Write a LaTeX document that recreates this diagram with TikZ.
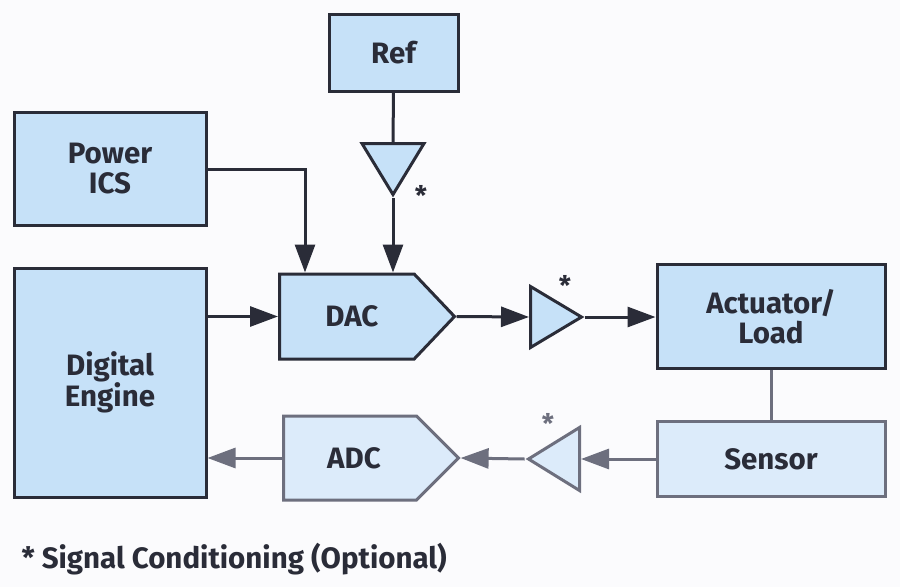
\documentclass[tikz,border=0pt]{standalone}
\usepackage{fontspec}
\setmainfont{Fira Sans}
\usetikzlibrary{shapes.geometric,shapes.symbols,arrows.meta}
\definecolor{inkdark}{HTML}{2A2C38}
\definecolor{inkgray}{HTML}{6D6F7E}
\definecolor{filltop}{HTML}{C6E1F8}
\definecolor{fillbot}{HTML}{DCEBFA}
\definecolor{paper}{HTML}{FBFBFD}

\begin{document}
\begin{tikzpicture}[x=1pt, y=-1pt,
  font=\fontsize{29.5}{30}\selectfont\bfseries,
  block/.style={draw=inkdark, fill=filltop, line width=3pt, text=inkdark, align=center, inner sep=0pt},
  lowblock/.style={block, draw=inkgray, fill=fillbot},
  amp/.style={isosceles triangle, isosceles triangle stretches, draw=inkdark, fill=filltop, line width=3pt, inner sep=0pt},
  lowamp/.style={amp, draw=inkgray, fill=fillbot},
  conv/.style={block, signal, signal to=east},
  wire/.style={draw=inkdark, line width=3pt},
  lowwire/.style={wire, draw=inkgray},
  arr/.style={wire, -{Triangle[length=28pt,width=20pt]}},
  lowarr/.style={lowwire, -{Triangle[length=28pt,width=20pt]}},
  star/.style={font=\fontsize{27}{28}\selectfont\bfseries, inner sep=0pt},
]
  \fill[paper] (0,0) rectangle (900,587);

  \node[block, minimum width=129pt, minimum height=77pt] (ref) at (393.5,52.5) {Ref};
  \node[block, minimum width=192pt, minimum height=113pt] (power) at (110,169) {Power\\ICS};
  \node[block, minimum width=192pt, minimum height=229pt] (engine) at (110,382.5) {Digital\\Engine};
  \node[conv, minimum width=175pt, minimum height=85pt, signal pointer angle=93, anchor=west] (dac) at (278,316.5) {\hspace*{10pt}DAC};
  \node[block, minimum width=228pt, minimum height=104pt] (act) at (771,316.5) {Actuator/\\Load};
  \node[lowblock, minimum width=228pt, minimum height=75pt] (sensor) at (771,459) {Sensor};
  \node[conv, lowblock, minimum width=175pt, minimum height=84pt, signal pointer angle=90, anchor=west] (adc) at (282,458) {\hspace*{8pt}ADC};

  \node[amp, shape border rotate=270, minimum width=62pt, minimum height=51pt, anchor=north] (refamp) at (393,142) {};
  \node[amp, minimum width=61pt, minimum height=51pt, anchor=west] (ampout) at (529,317) {};
  \node[lowamp, shape border rotate=180, minimum width=63pt, minimum height=51pt, anchor=east] (ampin) at (581,459) {};

  \node[star, text=inkdark] (refstar) at (421,195) {*};
  \node[star, text=inkdark] (outstar) at (565,285) {*};
  \node[star, text=inkgray] (instar) at (548,423) {*};

  \draw[wire] (ref.south) -- (refamp.north);
  \draw[arr] (refamp.apex) -- (refamp.apex |- dac.north);
  \draw[arr] (power.east) -| (305,0 |- dac.north);
  \draw[arr] (engine.east |- dac.west) -- (dac.west);
  \draw[arr] (dac.east) -- (ampout.west);
  \draw[arr] (ampout.apex) -- (act.west |- ampout.apex);
  \draw[lowwire] (act.south) -- (sensor.north);
  \draw[lowarr] (sensor.west) -- (ampin.east);
  \draw[lowarr] (ampin.apex) -- (adc.east);
  \draw[lowarr] (adc.west) -- (engine.east |- adc.west);

  \node[anchor=base west, text=inkdark, font=\fontsize{29.5}{31}\selectfont\bfseries] (note) at (18,568) {* Signal Conditioning (Optional)};
\end{tikzpicture}
\end{document}
